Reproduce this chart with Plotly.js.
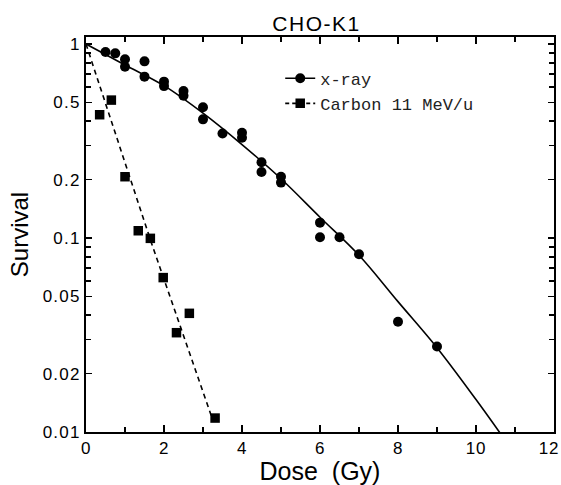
<!DOCTYPE html>
<html>
<head>
<meta charset="utf-8">
<script src="https://cdn.plot.ly/plotly-3.0.1.min.js"></script>
<style>
html,body{margin:0;padding:0;background:#fff;}
#chart{width:561px;height:485px;}
#chart .xtick text{letter-spacing:0.8px;}
#chart .ytick text{letter-spacing:1.2px;}
#chart .gtitle{letter-spacing:1.5px;}
</style>
</head>
<body>
<div id="chart"></div>
<script>
// x-ray measured survival
var xrayDose = [0.5, 0.75, 1.0, 1.0, 1.5, 1.5, 2.0, 2.0, 2.5, 2.5, 3.0, 3.0, 3.5, 4.0, 4.0, 4.5, 4.5, 5.0, 5.0, 6.0, 6.0, 6.5, 7.0, 8.0, 9.0];
var xraySurv = [0.91, 0.895, 0.834, 0.764, 0.814, 0.679, 0.64, 0.607, 0.573, 0.541, 0.472, 0.409, 0.346, 0.349, 0.329, 0.246, 0.219, 0.207, 0.193, 0.120, 0.101, 0.101, 0.0824, 0.037, 0.0276];
// x-ray fitted curve
var xrayFitDose = [0, 1, 2, 3, 4, 5, 6, 7, 8, 9, 10, 10.7];
var xrayFitSurv = [1.0, 0.78, 0.61, 0.44, 0.303, 0.202, 0.128, 0.0815, 0.047, 0.0272, 0.0147, 0.00936];
// Carbon 11 MeV/u measured survival
var carbonDose = [0.35, 0.65, 1.0, 1.34, 1.65, 1.98, 2.32, 2.65, 3.31];
var carbonSurv = [0.432, 0.514, 0.207, 0.109, 0.0996, 0.0625, 0.0325, 0.0409, 0.0118];
// Carbon fitted line
var carbonFitDose = [0, 1.65, 3.22];
var carbonFitSurv = [1.0, 0.098, 0.012];
// axis tick labels
var yTickVals = [0.01, 0.02, 0.05, 0.1, 0.2, 0.5, 1];
var yTickText = ['0.01', '0.02', '0.05', '0.1', '0.2', '0.5', '1'];
var yMinorVals = [0.03, 0.04, 0.06, 0.07, 0.08, 0.09, 0.3, 0.4, 0.6, 0.7, 0.8, 0.9];
var xTickVals = [0, 2, 4, 6, 8, 10, 12];
var legendNames = ['x-ray', 'Carbon 11 MeV/u'];

var FONT = '"Liberation Sans", Arial, sans-serif';
var MONO = '"Liberation Mono", "DejaVu Sans Mono", monospace';

var traces = [
  {x: xrayFitDose, y: xrayFitSurv, mode: 'lines', line: {color: '#000', width: 1.6, shape: 'spline', smoothing: 1}, showlegend: false, hoverinfo: 'skip'},
  {x: carbonFitDose, y: carbonFitSurv, mode: 'lines', line: {color: '#000', width: 1.6, dash: '5px,4px'}, showlegend: false, hoverinfo: 'skip'},
  {x: xrayDose, y: xraySurv, mode: 'markers', marker: {symbol: 'circle', size: 10, color: '#000'}, showlegend: false},
  {x: carbonDose, y: carbonSurv, mode: 'markers', marker: {symbol: 'square', size: 9.5, color: '#000'}, showlegend: false},
  {x: [null], y: [null], mode: 'lines+markers', name: legendNames[0], line: {color: '#000', width: 1.6}, marker: {symbol: 'circle', size: 10, color: '#000'}},
  {x: [null], y: [null], mode: 'lines+markers', name: legendNames[1], line: {color: '#000', width: 1.6, dash: '4px,3px'}, marker: {symbol: 'square', size: 9.5, color: '#000'}}
];

var layout = {
  width: 561, height: 485,
  margin: {l: 86, r: 7, t: 37, b: 53, pad: 0},
  paper_bgcolor: '#fff', plot_bgcolor: '#fff',
  font: {family: FONT, color: '#000', size: 16},
  title: {text: 'CHO-K1', font: {family: FONT, size: 21, color: '#000'}, x: 0.4925, xref: 'paper', xanchor: 'center', y: 0.951, yref: 'container', yanchor: 'middle'},
  showlegend: true,
  legend: {x: 0.415, y: 0.94, xanchor: 'left', yanchor: 'top', bgcolor: 'rgba(0,0,0,0)', borderwidth: 0, font: {family: MONO, size: 17, color: '#222'}, tracegroupgap: 0, itemwidth: 30},
  xaxis: {
    type: 'linear', range: [0, 12], tickmode: 'array', tickvals: xTickVals, ticktext: xTickVals.map(String),
    ticks: 'inside', ticklen: 7, tickwidth: 1.5, tickcolor: '#000', ticklabeloverflow: 'allow',
    minor: {dtick: 1, tick0: 0, ticks: 'inside', ticklen: 5, tickwidth: 1.5, tickcolor: '#000', showgrid: false},
    showline: true, linewidth: 2, linecolor: '#000', mirror: 'ticks', showgrid: false, zeroline: false,
    tickfont: {family: FONT, size: 17, color: '#000'},
    title: {text: 'Dose  (Gy)', font: {family: FONT, size: 25, color: '#000'}, standoff: 6}
  },
  yaxis: {
    type: 'log', range: [-2, Math.log10(1.087)], tickmode: 'array', tickvals: yTickVals, ticktext: yTickText,
    ticks: 'inside', ticklen: 6, tickwidth: 1.5, tickcolor: '#000',
    minor: {tickmode: 'array', tickvals: yMinorVals, ticks: 'inside', ticklen: 5, tickwidth: 1.5, tickcolor: '#000', showgrid: false},
    showline: true, linewidth: 2, linecolor: '#000', mirror: 'ticks', showgrid: false, zeroline: false,
    tickfont: {family: FONT, size: 17, color: '#000'},
    title: {text: 'Survival', font: {family: FONT, size: 24, color: '#000'}, standoff: 12}
  }
};

Plotly.newPlot('chart', traces, layout, {displayModeBar: false, staticPlot: true}).then(function () {
  // keep the last x tick label ("12") inside the page, as in the reference
  document.querySelectorAll('#chart .xtick text').forEach(function (t) {
    if (t.textContent === '12') { t.setAttribute('dx', '-5'); }
  });
});
</script>
</body>
</html>
